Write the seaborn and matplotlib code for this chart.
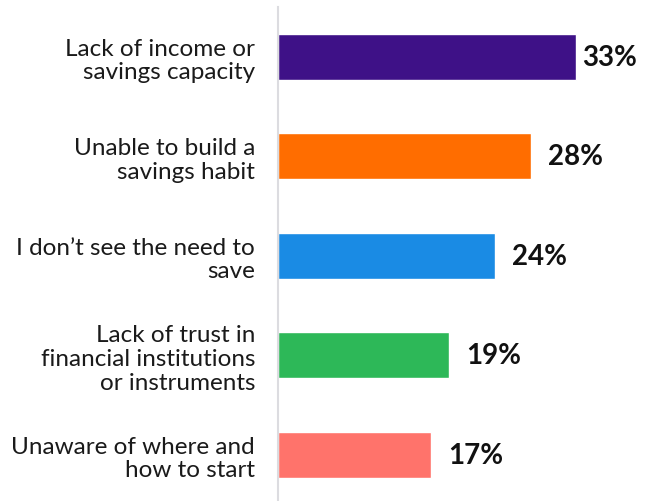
import matplotlib
matplotlib.use("Agg")
import matplotlib.pyplot as plt
import seaborn as sns
import pandas as pd

# Reasons for not saving (share of respondents, %)
reasons = [
    "Lack of income or\nsavings capacity",
    "Unable to build a\nsavings habit",
    "I don\u2019t see the need to\nsave",
    "Lack of trust in\nfinancial institutions\nor instruments",
    "Unaware of where and\nhow to start",
]
shares = [33, 28, 24, 19, 17]
colors = ["#3E1187", "#FF6D00", "#1A8BE4", "#2DB858", "#FF736B"]

df = pd.DataFrame({"reason": reasons, "share": shares})

sns.set_theme(style="white")
plt.rcParams["font.family"] = ["Lato", "DejaVu Sans"]

fig = plt.figure(figsize=(6.48, 5.02), dpi=100)
ax = fig.add_axes([278 / 648, 0.0, 361 / 648, 494 / 502])

sns.barplot(data=df, x="share", y="reason", hue="reason", palette=colors,
            legend=False, width=0.46, orient="h", ax=ax, saturation=1)

ax.set_xlim(0, 40)
ax.set_ylim(4.465, -0.5)

for i, v in enumerate(shares):
    ax.text(min(v + 1.9, 33.65), i, f"{v}%", ha="left", va="center",
            fontsize=20, fontweight="bold", color="#111111")

ax.set_xlabel("")
ax.set_ylabel("")
ax.set_xticks([])
ax.tick_params(axis="y", length=0, pad=16.5, labelsize=17.5, labelcolor="#1a1a1a")
for lbl in ax.get_yticklabels():
    lbl.set_horizontalalignment("right")
    lbl.set_multialignment("right")
    lbl.set_linespacing(1.15)

for side in ["top", "right", "bottom"]:
    ax.spines[side].set_visible(False)
ax.spines["left"].set_color("#DCDCE0")
ax.spines["left"].set_linewidth(1.5)

fig.savefig("out.png", dpi=100)
